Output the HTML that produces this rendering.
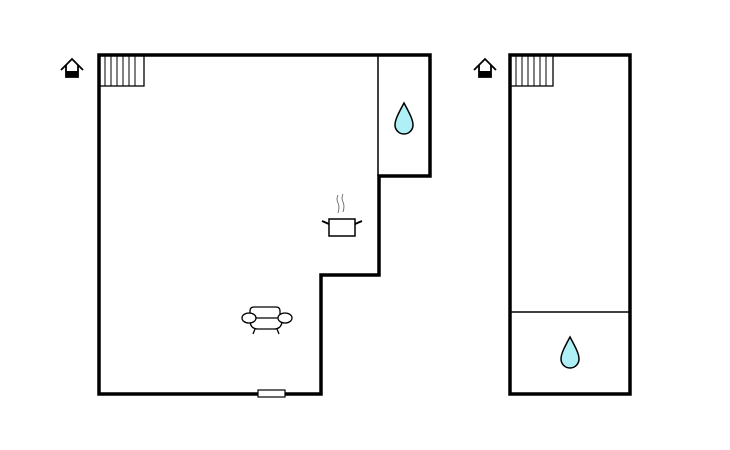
<!DOCTYPE html>
<html><head><style>html,body{margin:0;padding:0;background:#fff;width:730px;height:450px;overflow:hidden}</style></head>
<body>
<svg width="730" height="450" viewBox="0 0 730 450" xmlns="http://www.w3.org/2000/svg">
<g fill="none" stroke="#000">
<!-- main building -->
<path d="M99,55 H430 V176 H379 V275 H321 V394 H99 Z" stroke-width="3.5"/>
<line x1="378" y1="55" x2="378" y2="176" stroke-width="1.5"/>
<!-- stairs -->
<rect x="99" y="55" width="45" height="31" stroke-width="1.3"/>
<g stroke-width="1">
<line x1="105" y1="55" x2="105" y2="86"/><line x1="111" y1="55" x2="111" y2="86"/><line x1="117" y1="55" x2="117" y2="86"/><line x1="123" y1="55" x2="123" y2="86"/><line x1="129" y1="55" x2="129" y2="86"/><line x1="135" y1="55" x2="135" y2="86"/>
</g>
<!-- door -->
<rect x="258" y="390" width="27" height="7" fill="#fff" stroke-width="1.2"/>
<!-- right building -->
<rect x="510" y="55" width="120" height="339" stroke-width="3.5"/>
<line x1="510" y1="312" x2="630" y2="312" stroke-width="1.5"/>
<rect x="510" y="55" width="43" height="31" stroke-width="1.3"/>
<g stroke-width="1">
<line x1="516" y1="55" x2="516" y2="86"/><line x1="522" y1="55" x2="522" y2="86"/><line x1="528" y1="55" x2="528" y2="86"/><line x1="534" y1="55" x2="534" y2="86"/><line x1="540" y1="55" x2="540" y2="86"/><line x1="546" y1="55" x2="546" y2="86"/>
</g>
<!-- drops -->
<path d="M404,103 C398,114 395,120 395,125 A9,9 0 0 0 413,125 C413,120 410,114 404,103 Z" fill="#aef0f5" stroke-width="1.5"/>
<path d="M570,337 C564,348 561,354 561,359 A9,9 0 0 0 579,359 C579,354 576,348 570,337 Z" fill="#aef0f5" stroke-width="1.5"/>
<!-- pot -->
<rect x="329" y="219" width="26" height="17" fill="#fff" stroke-width="1.5"/>
<line x1="329" y1="224" x2="322" y2="221" stroke-width="2"/>
<line x1="355" y1="224" x2="362" y2="221" stroke-width="2"/>
<path d="M338,195 q-2,4 0,8 q2,4 0,10 M343,194 q-2,4 0,8 q2,4 0,10" stroke="#555" stroke-width="0.8"/>
<!-- sofa -->
<g stroke-width="1.3" fill="#fff">
<path d="M250,317 v-6 q0,-4 4,-4 h22 q4,0 4,4 v6"/>
<path d="M250,322 q1,7 8,7 h16 q7,0 8,-7"/>
<line x1="255" y1="329" x2="253" y2="334"/><line x1="277" y1="329" x2="279" y2="334"/>
<ellipse cx="249" cy="318" rx="7" ry="5"/><ellipse cx="285" cy="318" rx="7" ry="5"/>
<line x1="256" y1="318" x2="278" y2="318"/>
</g>
</g>
<!-- house icons -->
<g stroke="#000" stroke-width="1.8" fill="none">
<path d="M61,70 L72,59 L83,70"/><path d="M66,65 V77 H78 V65"/>
<path d="M474,70 L485,59 L496,70"/><path d="M479,65 V77 H491 V65"/>
</g>
<rect x="66" y="71" width="12" height="6" fill="#000"/>
<rect x="479" y="71" width="12" height="6" fill="#000"/>
</svg>
</body></html>
